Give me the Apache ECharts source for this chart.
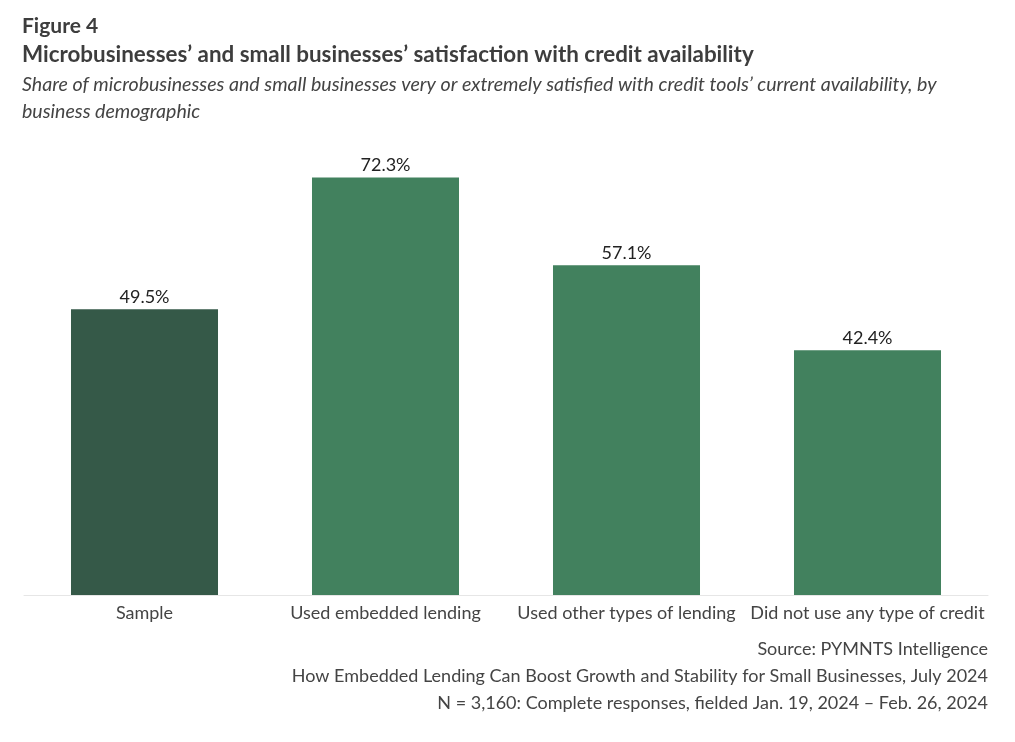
<!DOCTYPE html>
<html><head><meta charset="utf-8">
<script src="https://cdn.jsdelivr.net/npm/echarts@6/dist/echarts.min.js"></script>
<style>html,body{margin:0;padding:0;background:#fff}#c{width:1015px;height:742px}</style>
</head><body><div id="c"></div>
<script>
const categories = ["Sample", "Used embedded lending", "Used other types of lending", "Did not use any type of credit"];
const values = [49.5, 72.3, 57.1, 42.4];
const barColors = ["#355948", "#42815e", "#42815e", "#42815e"];
const titleText = "Figure 4";
const titleText2 = "Microbusinesses\u2019 and small businesses\u2019 satisfaction with credit availability";
const subtitleLines = ["Share of microbusinesses and small businesses very or extremely satisfied with credit tools\u2019 current availability, by", "business demographic"];
const footerLines = ["Source: PYMNTS Intelligence", "How Embedded Lending Can Boost Growth and Stability for Small Businesses, July 2024", "N = 3,160: Complete responses, fielded Jan. 19, 2024 \u2013 Feb. 26, 2024"];

const chart = echarts.init(document.getElementById('c'));
const F = 'Lato, "Noto Sans", sans-serif';
chart.setOption({
  animation: false,
  textStyle: {fontFamily: F},
  graphic: [
    {type:'text', left:22, top:16, style:{text:titleText, font:'bold 21px '+F, fill:'#3d3d3d'}},
    {type:'text', left:22, top:44, style:{text:titleText2, font:'bold 22.4px '+F, fill:'#3d3d3d'}},
    {type:'text', left:22, top:75, style:{text:subtitleLines[0], font:'italic 19.6px '+F, fill:'#444'}},
    {type:'text', left:22, top:102, style:{text:subtitleLines[1], font:'italic 19.6px '+F, fill:'#444'}},
    {type:'text', right:27, top:640, style:{text:footerLines[0], font:'18px '+F, fill:'#444', align:'right'}},
    {type:'text', right:27, top:667, style:{text:footerLines[1], font:'18px '+F, fill:'#444', align:'right'}},
    {type:'text', right:27, top:694, style:{text:footerLines[2], font:'18px '+F, fill:'#444', align:'right'}}
  ],
  grid: {left:24, right:27, top:133, bottom:147, containLabel:false},
  xAxis: {
    type:'category', data: categories,
    axisLine:{lineStyle:{color:'#e6e6e6', width:1}},
    axisTick:{show:false},
    axisLabel:{color:'#444', fontSize:18, margin:9, fontFamily:F, interval:0}
  },
  yAxis: {type:'value', min:0, max:80, show:false, splitLine:{show:false}},
  series: [{
    type:'bar', barWidth:'61%',
    data: values.map((v,i)=>({value:v, itemStyle:{color:barColors[i]}})),
    label:{show:true, position:'top', distance:3, color:'#222', fontSize:18, fontFamily:F, formatter: p => p.value.toFixed(1)+'%'}
  }]
});
</script></body></html>
